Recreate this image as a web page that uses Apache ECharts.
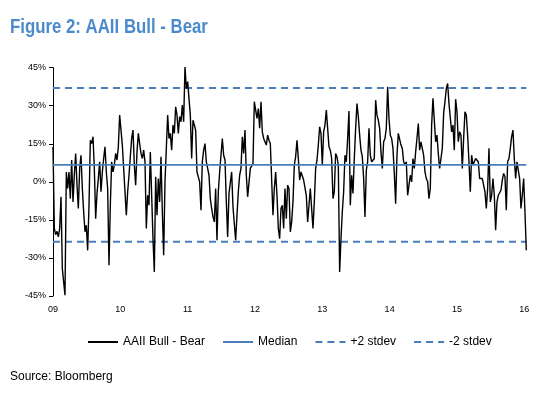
<!DOCTYPE html>
<html><head><meta charset="utf-8">
<script src="https://cdn.jsdelivr.net/npm/echarts@6/dist/echarts.min.js"></script>
<style>html,body{margin:0;padding:0;background:#fff}#c{width:553px;height:396px}</style>
</head><body><div id="c"></div>
<script>
// Weekly AAII Bull - Bear spread (%), Jan 2009 -> Jan 2016
const partA = [13.8,-18.4,-20.8,-19.5,-21.7,-18.4,-5.9,-34.2,-34,-44.7,3.9,-2.6,3.9,-6.6,8.6,-7.9,2.6,11.2,-1.3,-10.5,5.3,10.5,-2.6,-11.8,-19.7,-17.1,-27,-9.2,16.4,15.1,17.8,5.3,-14.5,-4.6,1.3,7.9,-3.9,3.9,9.2,13.8,3.9,-2.6,-32.9,-9.2,7.9,3.9,6.6,11.2,8.6,13.8,26.3,20.4,14.5,5.3,-3.9,-13.2,-3.9,2.6,9.9,17.1,20.4,6.6,-1.3,11.8,19.1,15.1,11.2,9.2,12.5];
const partB = [7.9,-18.4,-5.3,-9.2,11.8,-5.3,-22.4,-35.5,2.0,-13.2,1.3,-7.9,9.9,-11.8,-28.9,0,13.2,26.3,17.1,19.1,12.5,22.4,19.1,29.6,26.3,19.1,25.7,23.7,30.3,23.7,45.4,36.8,39.5,32.9,26.3,9.2,24.3,22.4,20.4,3.9,3.9,0,-11.2,7.9,12.5,15.1,7.9,5.3,2.6,-6.6,-10.5,-13.8,-15.8,-2.6,-23,-3.9,3.9,10.5,17.1,10.5,8.6,-7.9,-21.7,-4.6,-3.9,3.9,-9.9,-10.5,-23,-13.2,-3.9,2.6];
const partC = [5.3,17.8,11.2,20.4,2.6,-5.9,-5.3,5.3,5.9,7.2,31.6,32.2,25,28.9,21.1,31.6,19.7,17.1,17.8,14.5,18.4,16.4,15.1,14.5,-13.2,-2.6,3.9,-5.3,-18.4,-22.4,-10.5,-9.2,-18.4,-2.6,-14.5,-1.3,-2.6,-19.7,-15.8,-7.9,6.6,9.9,16.4,9.2,0.7,3.9,3.9,0.7,0.7,-5.3,-15.8,-9.2,-2.6,-2.6,-18.4,-7.9,5.3,8.6,14.5,21.7,19.1,6.6,19.7,22.4,28.3,21.1,13.8,12.5,9.2,-6.6,-3.9];
const partD = [11.2,9.9,6.6,-35.5,-22.4,-11.8,-3.9,10.5,7.9,17.1,27.9,-9.2,2.6,-4.6,9.2,21.1,30.9,25.7,18.4,12.5,9.9,1.3,-13.8,4.6,7.9,21.1,10.5,7.9,7.9,9.2,32.2,26.3,24.3,21.1,11.8,5.3,15.8,17.1,21.1,37.5,25,18.4,17.1,13.2,3.3,-8.6,10.5,19.1,19.1,14.5,13.2,7.9,6.6,7.9,-5.3,-1.3,2.6,0,9.2,5.3,11.8,17.1,23,12.5,15.8,15.8,10.5,3.9,1.3,0,-6.6];
const partE = [-2.6,22.4,32.9,24.3,15.8,18.4,11.2,5.3,9.2,13.2,27,31.6,36.8,38.8,30.9,31.6,19.7,22.4,12.5,32.6,27.6,15.8,19.7,18.4,5.3,17.1,27.6,26.3,18.4,7.9,-3.9,10.5,6.6,6.6,9.2,8.6,7.9,1.3,1.3,1.3,2.0,-3.9,-10.5,-2.6,13.2,-7.9,-5.3,1.3,-5.3,-19.1,-7.9,-5.3,-5.9,-3.3,0.7,3.3,2.0,-11.2,7.9,9.2,13.2,17.8,20.4,9.2,1.3,7.9,7.9,1.3,-10.5,-5.3,1.3,-11.8,-27];
const median = 6.7;
const plus2 = 37.0;
const minus2 = -23.6;
const startYear = 2009;
const endYear = 2016.03;
const yTicks = [-45, -30, -15, 0, 15, 30, 45];
const seriesNames = ['AAII Bull - Bear', 'Median', '+2 stdev', '-2 stdev'];

const values = partA.concat(partB, partC, partD, partE);
const step = (endYear - startYear) / (values.length - 1);
const mainData = values.map((v, i) => [startYear + i * step, v]);
const flat = v => [[startYear, v], [endYear, v]];

const blue = '#4A7EBB';
const font = '"Liberation Sans", Arial, sans-serif';
const chart = echarts.init(document.getElementById('c'), null, {renderer: 'canvas'});
chart.setOption({
  animation: false,
  backgroundColor: '#fff',
  grid: {left: 53, right: 26.7, top: 67.7, bottom: 100},
  xAxis: {
    type: 'value', min: startYear, max: endYear, interval: 1,
    axisLine: {show: false}, axisTick: {show: false}, splitLine: {show: false},
    axisLabel: {fontSize: 9, color: '#000', margin: 9, fontFamily: font,
      formatter: v => Number.isInteger(v) ? String(v).slice(2) : '', showMaxLabel: false}
  },
  yAxis: {
    type: 'value', min: yTicks[0], max: yTicks[yTicks.length - 1], interval: 15,
    axisLine: {show: true, lineStyle: {color: '#000', width: 1}},
    axisTick: {show: true, inside: false, length: 4, lineStyle: {color: '#000'}},
    splitLine: {show: false},
    axisLabel: {fontSize: 9, color: '#000', margin: 7, fontFamily: font, formatter: '{value}%'}
  },
  legend: {
    left: 82, top: 331, itemWidth: 30, itemHeight: 8, itemGap: 17,
    itemStyle: {opacity: 0},
    textStyle: {fontSize: 12, color: '#000', fontFamily: font},
    data: seriesNames
  },
  graphic: [
    {type: 'text', left: 10, top: 17, scaleX: 0.84, originX: 0,
      style: {text: 'Figure 2: AAII Bull - Bear', fontSize: 20, fontWeight: 'bold', fill: '#4B8BCB', fontFamily: font}},
    {type: 'text', left: 10, top: 371, style: {text: 'Source: Bloomberg', fontSize: 12, fill: '#000', fontFamily: font}}
  ],
  series: [
    {name: seriesNames[0], type: 'line', data: mainData, symbol: 'none', lineStyle: {color: '#000', width: 1.4}, itemStyle: {color: '#000'}, z: 3},
    {name: seriesNames[1], type: 'line', data: flat(median), symbol: 'none', lineStyle: {color: blue, width: 1.6}, itemStyle: {color: blue}, z: 4},
    {name: seriesNames[2], type: 'line', data: flat(plus2), symbol: 'none', lineStyle: {color: blue, width: 2, type: [7, 5]}, itemStyle: {color: blue}, z: 2},
    {name: seriesNames[3], type: 'line', data: flat(minus2), symbol: 'none', lineStyle: {color: blue, width: 2, type: [7, 5]}, itemStyle: {color: blue}, z: 2}
  ]
});
</script></body></html>
